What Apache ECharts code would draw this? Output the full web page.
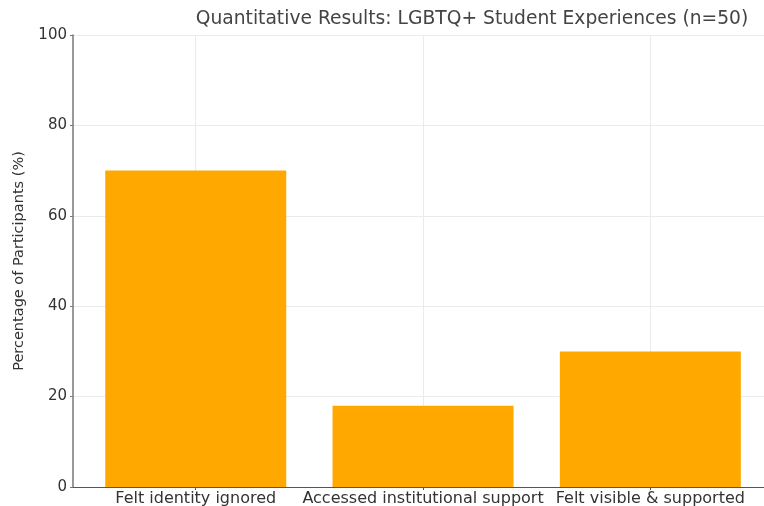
<!DOCTYPE html>
<html>
<head>
<meta charset="utf-8">
<script src="https://cdn.jsdelivr.net/npm/echarts@6/dist/echarts.min.js"></script>
<style>html,body{margin:0;padding:0;background:#fff}#c{width:764px;height:506px}</style>
</head>
<body>
<div id="c"></div>
<script>
const categories = ["Felt identity ignored", "Accessed institutional support", "Felt visible & supported"];
const percentages = [70, 18, 30];
const yTicks = [0, 20, 40, 60, 80, 100];

const chart = echarts.init(document.getElementById('c'), null, {renderer: 'canvas'});
const font = 'DejaVu Sans';
chart.setOption({
  backgroundColor: '#ffffff',
  animation: false,
  title: {
    text: 'Quantitative Results: LGBTQ+ Student Experiences (n=50)',
    left: 467, top: 5, textAlign: 'center',
    textStyle: {fontFamily: font, fontSize: 18.7, fontWeight: 'normal', color: '#444'}
  },
  grid: {left: 73, right: 0, top: 35, bottom: 19, containLabel: false, outerBoundsMode: 'none'},
  xAxis: {
    type: 'value', min: -0.54, max: 2.5,
    axisLine: {show: true, onZero: false, lineStyle: {color: '#555', width: 1.2}},
    axisTick: {show: true, customValues: [0, 1, 2], length: 3, lineStyle: {color: '#555'}},
    axisLabel: {customValues: [0, 1, 2], formatter: v => categories[Math.round(v)] || '',
      fontFamily: font, fontSize: 16, color: '#333', margin: 4},
    splitLine: {show: true, lineStyle: {color: '#ebebeb', width: 1}}
  },
  yAxis: {
    type: 'value', min: 0, max: 100, interval: 20,
    name: 'Percentage of Participants (%)', nameLocation: 'middle', nameGap: 46,
    nameTextStyle: {fontFamily: font, fontSize: 14.5, color: '#333'},
    axisLine: {show: true, onZero: false, lineStyle: {color: '#777', width: 1.5}},
    axisTick: {show: true, length: 3, lineStyle: {color: '#777'}},
    axisLabel: {fontFamily: font, fontSize: 15, color: '#333', margin: 6,
      formatter: v => yTicks.includes(v) ? String(v) : ''},
    splitLine: {show: true, lineStyle: {color: '#ebebeb', width: 1}}
  },
  series: [{
    type: 'bar',
    data: percentages.map((v, i) => [i, v]),
    barWidth: 181,
    itemStyle: {color: '#FFA800'},
    z: 3
  }]
});
</script>
</body>
</html>
